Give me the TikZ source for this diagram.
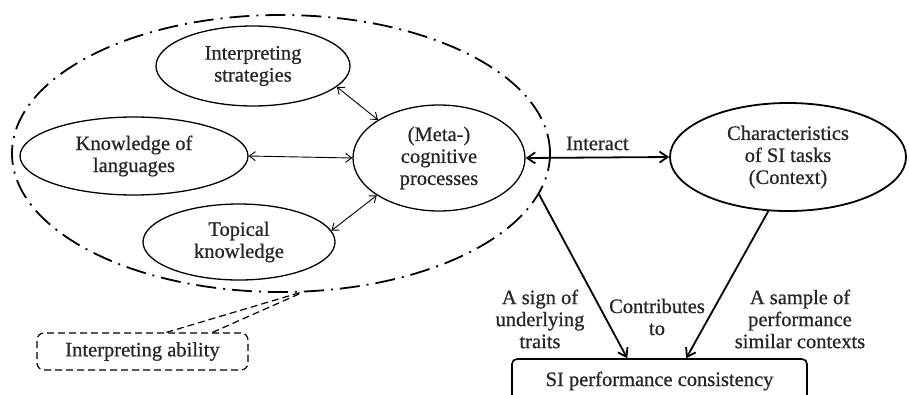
\documentclass[tikz,border=0pt]{standalone}
\usepackage{fontspec}
\setmainfont{Liberation Serif}[FakeBold=0.7]
\usetikzlibrary{shapes.geometric,arrows.meta,calc}
\begin{document}
\begin{tikzpicture}[x=1pt,y=-1pt,
  txt/.style={font=\fontsize{20.5}{22}\selectfont, align=center, text=black!85},
  oval/.style={ellipse, draw, line width=1.3pt, inner sep=0pt, txt},
  dashdot/.style={line width=1.8pt, dash pattern=on 20pt off 7pt on 2pt off 7pt},
  thin2/.style={line width=0.9pt, {Straight Barb[length=6pt,width=9pt]}-{Straight Barb[length=6pt,width=9pt]}},
  thick1/.style={line width=1.8pt, -{Straight Barb[length=8pt,width=11pt]}},
  callout/.style={line width=1.2pt, dash pattern=on 7pt off 4pt}
]
\useasboundingbox (0,0) rectangle (909,394);
\clip (0,0) rectangle (909,394);
\fill[white] (0,0) rectangle (909,394);

\node[ellipse, draw, dashdot, minimum width=538, minimum height=277, inner sep=0pt] (outer) at (281,153.5) {};

\node[oval, minimum width=194, minimum height=80] (is) at (253,66) {Interpreting\\strategies};
\node[oval, minimum width=228, minimum height=78] (kl) at (134,156) {Knowledge of\\languages};
\node[oval, minimum width=192, minimum height=76] (tk) at (239,242) {Topical\\knowledge};
\node[oval, minimum width=172, minimum height=106] (meta) at (439,158) {(Meta-)\\cognitive\\processes};
\node[oval, line width=1.8pt, minimum width=236, minimum height=108] (char) at (788,157) {Characteristics\\of SI tasks\\(Context)};

\node[draw, line width=1.6pt, rounded corners=5pt, minimum width=295, minimum height=44, inner sep=0pt, txt] (si) at (659.5,381) {SI performance consistency};

\node[draw, callout, rounded corners=7pt, minimum width=211, minimum height=37, inner sep=0pt, txt] (ia) at (142.5,351.5) {Interpreting ability};

\coordinate (tip) at (302,292);
\draw[callout] ($(ia.north west)+(130,0)$) -- (tip);
\draw[callout] ($(ia.north west)+(176,0)$) -- ($(tip)+(-3,2)$);

\draw[thin2] (is.-14) -- (meta.148);
\draw[thin2] (kl.east) -- (meta.west);
\draw[thin2] (tk.7) -- (meta.211);

\draw[line width=1.8pt, {Straight Barb[length=8pt,width=11pt]}-{Straight Barb[length=8pt,width=11pt]}] (meta.east) -- node[txt, above=3pt] (lint) {Interact} (char.west);

\draw[thick1] (outer.-9) -- ($(si.north west)+(116,0)$);
\draw[thick1] (char.250) -- ($(si.north west)+(175,0)$);

\node[txt] (l1) at (540,319) {A sign of\\underlying\\traits};
\node[txt] (l2) at (657,317) {Contributes\\to};
\node[txt] (l3) at (800,319) {A sample of\\performance\\similar contexts};
\end{tikzpicture}
\end{document}
